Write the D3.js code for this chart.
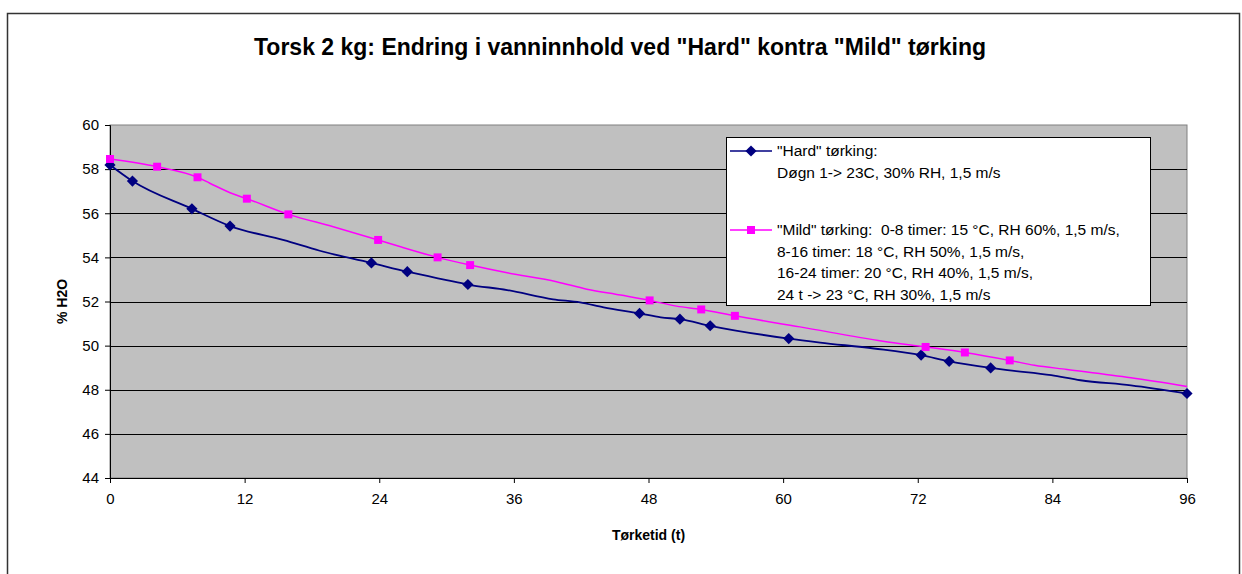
<!DOCTYPE html>
<html>
<head>
<meta charset="utf-8">
<script src="https://cdn.jsdelivr.net/npm/d3@7"></script>
<style>
  body { margin: 0; background: #fff; }
  svg { font-family: "Liberation Sans", Arial, sans-serif; }
</style>
</head>
<body>
<script>
// measured points (with markers), hours / % H2O
const hardMarkT = [0, 2, 7.3, 10.7, 23.3, 26.5, 31.9, 47.2, 50.8, 53.5, 60.5, 72.3, 74.8, 78.5, 96];
const hardMarkV = [58.19, 57.46, 56.2, 55.42, 53.75, 53.35, 52.77, 51.46, 51.2, 50.9, 50.32, 49.57, 49.29, 48.99, 47.83];
// extra points along the hard line between markers
const hardTraceT = [15.5, 18.7, 30, 35.4, 39.5, 41.9, 44, 49.1, 63.3, 68.1, 80, 83.9, 86.5, 91];
const hardTraceV = [54.78, 54.3, 52.97, 52.52, 52.1, 51.96, 51.73, 51.28, 50.14, 49.87, 48.89, 48.66, 48.43, 48.2];

const mildMarkT = [0, 4.2, 7.8, 12.2, 15.9, 23.9, 29.2, 32.1, 48.1, 52.7, 55.7, 72.7, 76.2, 80.2];
const mildMarkV = [58.46, 58.11, 57.63, 56.66, 55.95, 54.79, 54.0, 53.65, 52.05, 51.64, 51.35, 49.94, 49.69, 49.33];
const mildTraceT = [8.9, 11, 19.9, 25.9, 35.4, 39.8, 42.5, 45.5, 50.5, 61.5, 68.9, 82.4, 85.3, 91, 96];
const mildTraceV = [57.36, 56.87, 55.39, 54.48, 53.3, 52.9, 52.56, 52.29, 51.79, 50.85, 50.2, 49.11, 48.92, 48.54, 48.15];

const xTicks = [0, 12, 24, 36, 48, 60, 72, 84, 96];
const yTicks = [44, 46, 48, 50, 52, 54, 56, 58, 60];

const titleText = 'Torsk 2 kg: Endring i vanninnhold ved "Hard" kontra "Mild" tørking';
const hardLegend = ['"Hard" tørking:', 'Døgn 1-> 23C, 30% RH, 1,5 m/s'];
const mildLegend = ['"Mild" tørking:  0-8 timer: 15 °C, RH 60%, 1,5 m/s,',
  '8-16 timer: 18 °C, RH 50%, 1,5 m/s,',
  '16-24 timer: 20 °C, RH 40%, 1,5 m/s,',
  '24 t -> 23 °C, RH 30%, 1,5 m/s'];

const width = 1242, height = 574;
const plot = {left: 110, right: 1187, top: 125, bottom: 478};
const hardColor = '#000080', mildColor = '#ff00ff';

const svg = d3.select('body').append('svg')
  .attr('width', width)
  .attr('height', height);

// outer chart frame
svg.append('rect')
  .attr('x', 7.5).attr('y', 13.5)
  .attr('width', 1232).attr('height', 600)
  .attr('fill', '#fff')
  .attr('stroke', '#333').attr('stroke-width', 1.5);

const x = d3.scaleLinear().domain([0, 96]).range([plot.left, plot.right]);
const y = d3.scaleLinear().domain([44, 60]).range([plot.bottom, plot.top]);

svg.append('rect')
  .attr('x', plot.left).attr('y', plot.top)
  .attr('width', plot.right - plot.left).attr('height', plot.bottom - plot.top)
  .attr('fill', '#c0c0c0')
  .attr('stroke', '#808080');

// gridlines
svg.append('g')
  .selectAll('line')
  .data(yTicks.filter(d => d > 44 && d < 60))
  .enter().append('line')
  .attr('x1', plot.left).attr('x2', plot.right)
  .attr('y1', d => Math.round(y(d)) + 0.5).attr('y2', d => Math.round(y(d)) + 0.5)
  .attr('stroke', '#000');

const yAxis = svg.append('g')
  .attr('transform', `translate(${plot.left},0)`)
  .call(d3.axisLeft(y).tickValues(yTicks).tickSize(5).tickPadding(6).tickFormat(d3.format('d')));
yAxis.select('.domain').attr('stroke', '#000');
yAxis.selectAll('text').attr('font-size', 15).attr('fill', '#000').attr('font-family', '"Liberation Sans", Arial, sans-serif');

const xAxis = svg.append('g')
  .attr('transform', `translate(0,${plot.bottom})`)
  .call(d3.axisBottom(x).tickValues(xTicks).tickSize(5).tickPadding(10).tickFormat(d3.format('d')));
xAxis.select('.domain').attr('stroke', '#000');
xAxis.selectAll('text').attr('font-size', 15).attr('fill', '#000').attr('font-family', '"Liberation Sans", Arial, sans-serif');

function zipPts(t, v) { return t.map((d, i) => ({t: d, v: v[i]})); }

const hardMarks = zipPts(hardMarkT, hardMarkV);
const mildMarks = zipPts(mildMarkT, mildMarkV);
const hardLine = hardMarks.concat(zipPts(hardTraceT, hardTraceV)).sort((a, b) => a.t - b.t);
const mildLine = mildMarks.concat(zipPts(mildTraceT, mildTraceV)).sort((a, b) => a.t - b.t);

const line = d3.line()
  .x(d => x(d.t))
  .y(d => y(d.v))
  .curve(d3.curveMonotoneX);

svg.append('path').datum(mildLine)
  .attr('d', line).attr('fill', 'none')
  .attr('stroke', mildColor).attr('stroke-width', 1.5);
svg.append('path').datum(hardLine)
  .attr('d', line).attr('fill', 'none')
  .attr('stroke', hardColor).attr('stroke-width', 1.8);

const diamond = d3.symbol().type(d3.symbolDiamond2).size(80);
const square = d3.symbol().type(d3.symbolSquare2).size(81);

svg.append('g').selectAll('path')
  .data(hardMarks)
  .enter().append('path')
  .attr('d', diamond)
  .attr('transform', d => `translate(${x(d.t)},${y(d.v)})`)
  .attr('fill', hardColor);

svg.append('g').selectAll('path')
  .data(mildMarks)
  .enter().append('path')
  .attr('d', square)
  .attr('transform', d => `translate(${x(d.t)},${y(d.v)})`)
  .attr('fill', mildColor);

// title
svg.append('text')
  .attr('x', 620).attr('y', 55)
  .attr('text-anchor', 'middle')
  .attr('font-size', 23).attr('font-weight', 'bold')
  .text(titleText);

// axis titles
svg.append('text')
  .attr('transform', `translate(67,${(plot.top + plot.bottom) / 2}) rotate(-90)`)
  .attr('text-anchor', 'middle')
  .attr('font-size', 14).attr('font-weight', 'bold')
  .text('% H2O');

svg.append('text')
  .attr('x', (plot.left + plot.right) / 2).attr('y', 540)
  .attr('text-anchor', 'middle')
  .attr('font-size', 14).attr('font-weight', 'bold')
  .text('Tørketid (t)');

// legend
const lg = svg.append('g').attr('transform', 'translate(726,137)');
lg.append('rect')
  .attr('x', 0.5).attr('y', 0.5)
  .attr('width', 424).attr('height', 168)
  .attr('fill', '#fff').attr('stroke', '#000');

const legendRows = [
  {lines: hardLegend, color: hardColor, sym: diamond, y: 14},
  {lines: mildLegend, color: mildColor, sym: square, y: 93}
];
legendRows.forEach(r => {
  lg.append('line')
    .attr('x1', 4).attr('x2', 46)
    .attr('y1', r.y).attr('y2', r.y)
    .attr('stroke', r.color).attr('stroke-width', 1.5);
  lg.append('path')
    .attr('d', r.sym)
    .attr('transform', `translate(25,${r.y})`)
    .attr('fill', r.color);
  r.lines.forEach((s, i) => {
    lg.append('text')
      .attr('x', 51).attr('y', r.y + 5 + i * 21.5)
      .attr('font-size', 15.5)
      .style('white-space', 'pre')
      .text(s);
  });
});
</script>
</body>
</html>
